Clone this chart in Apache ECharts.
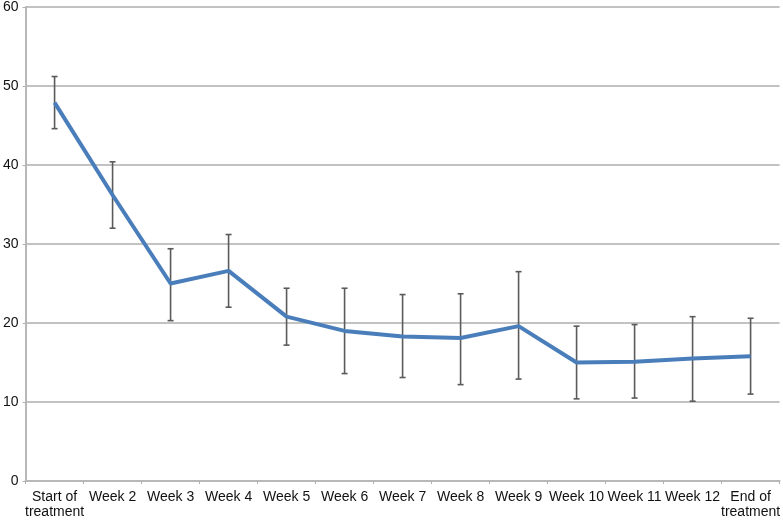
<!DOCTYPE html>
<html>
<head>
<meta charset="utf-8">
<script src="https://cdn.jsdelivr.net/npm/echarts@6/dist/echarts.min.js"></script>
<style>
html,body{margin:0;padding:0;background:#fff;}
#chart{width:783px;height:520px;}
</style>
</head>
<body>
<div id="chart"></div>
<script>
const categories = ['Start of\ntreatment','Week 2','Week 3','Week 4','Week 5','Week 6','Week 7','Week 8','Week 9','Week 10','Week 11','Week 12','End of\ntreatment'];
const means = [47.9, 36.2, 25.0, 26.6, 20.8, 19.0, 18.3, 18.1, 19.6, 15.0, 15.1, 15.5, 15.8];
const upper = [51.2, 40.4, 29.4, 31.2, 24.4, 24.4, 23.6, 23.7, 26.5, 19.6, 19.8, 20.8, 20.6];
const lower = [44.6, 32.0, 20.3, 22.0, 17.2, 13.6, 13.1, 12.2, 12.9, 10.4, 10.5, 10.1, 11.0];
const yTicks = [0, 10, 20, 30, 40, 50, 60];

const errData = categories.map((c, i) => [i, lower[i], upper[i]]);

const chart = echarts.init(document.getElementById('chart'), null, {renderer: 'canvas'});
chart.setOption({
  animation: false,
  backgroundColor: '#fff',
  grid: {left: 24, right: 1, top: 5.5, bottom: 34.5, containLabel: false},
  xAxis: {
    type: 'category',
    data: categories,
    boundaryGap: true,
    axisLine: {show: true, lineStyle: {color: '#b8b8b8', width: 2}},
    axisTick: {show: true, length: 3, lineStyle: {color: '#b0b0b0', width: 1}},
    axisLabel: {color: '#111', fontSize: 14, fontFamily: 'Liberation Sans, Arial, sans-serif', margin: 9, lineHeight: 15, interval: 0},
    splitLine: {show: false}
  },
  yAxis: {
    type: 'value',
    min: yTicks[0],
    max: yTicks[yTicks.length - 1],
    interval: 10,
    axisLine: {show: true, lineStyle: {color: '#b8b8b8', width: 2}},
    axisTick: {show: true, length: 3, lineStyle: {color: '#b0b0b0'}},
    axisLabel: {color: '#111', fontSize: 14, fontFamily: 'Liberation Sans, Arial, sans-serif', margin: 7},
    splitLine: {show: true, lineStyle: {color: '#c2c2c2', width: 2}}
  },
  series: [
    {
      type: 'custom',
      z: 2,
      data: errData,
      renderItem: function (params, api) {
        const x = api.value(0);
        const lo = api.coord([x, api.value(1)]);
        const hi = api.coord([x, api.value(2)]);
        const cap = 3;
        const style = {stroke: '#5a5a5a', lineWidth: 1.6};
        return {
          type: 'group',
          children: [
            {type: 'line', shape: {x1: hi[0], y1: hi[1], x2: lo[0], y2: lo[1]}, style: style},
            {type: 'line', shape: {x1: hi[0] - cap, y1: hi[1], x2: hi[0] + cap, y2: hi[1]}, style: style},
            {type: 'line', shape: {x1: lo[0] - cap, y1: lo[1], x2: lo[0] + cap, y2: lo[1]}, style: style}
          ]
        };
      }
    },
    {
      type: 'line',
      z: 3,
      data: means,
      symbol: 'none',
      lineStyle: {color: '#4a7ebb', width: 4},
      itemStyle: {color: '#4a7ebb'}
    }
  ]
});
</script>
</body>
</html>
